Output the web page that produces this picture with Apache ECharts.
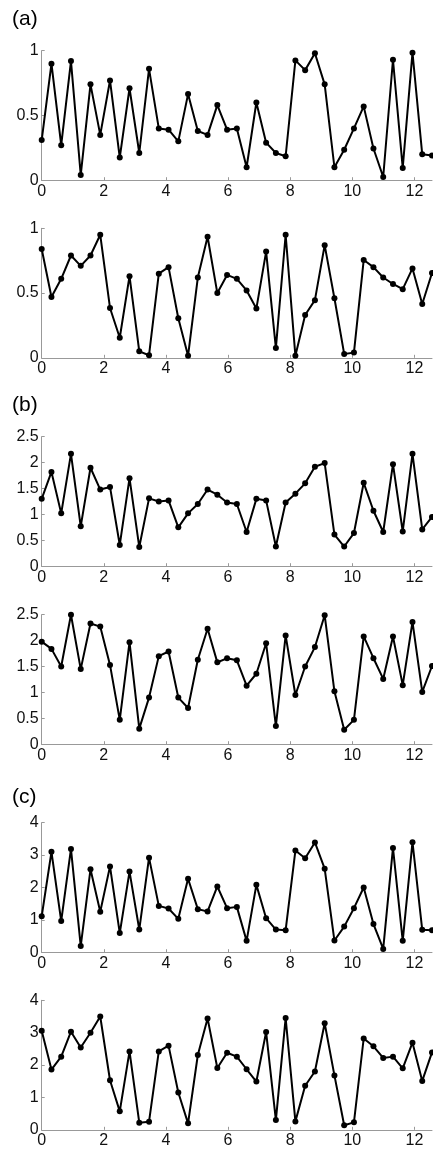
<!DOCTYPE html>
<html>
<head>
<meta charset="utf-8">
<script src="https://cdn.jsdelivr.net/npm/echarts@6/dist/echarts.min.js"></script>
<style>
  html, body { margin: 0; padding: 0; background: #fff; }
  #chart { width: 433px; height: 1151px; }
</style>
</head>
<body>
<div id="chart"></div>
<script>
// sample spacing along x (pi/10), 41 samples from 0 to 4pi
var step = Math.PI / 10;
var xMax = 4 * Math.PI;

var a1 = [0.31, 0.90, 0.27, 0.92, 0.04, 0.74, 0.35, 0.77, 0.175, 0.71, 0.21, 0.86, 0.40, 0.39, 0.30, 0.665, 0.38, 0.35, 0.58, 0.39, 0.40,
          0.10, 0.60, 0.29, 0.21, 0.185, 0.925, 0.85, 0.98, 0.74, 0.10, 0.235, 0.40, 0.57, 0.245, 0.025, 0.93, 0.095, 0.985, 0.20, 0.19];
var a2 = [0.84, 0.47, 0.61, 0.79, 0.71, 0.79, 0.95, 0.385, 0.155, 0.63, 0.05, 0.02, 0.65, 0.70, 0.305, 0.015, 0.62, 0.935, 0.50, 0.64, 0.61,
          0.52, 0.38, 0.82, 0.075, 0.95, 0.015, 0.33, 0.445, 0.87, 0.46, 0.03, 0.04, 0.755, 0.70, 0.62, 0.57, 0.53, 0.69, 0.415, 0.655];
var b1 = [1.30, 1.82, 1.02, 2.17, 0.77, 1.90, 1.48, 1.53, 0.41, 1.70, 0.37, 1.31, 1.25, 1.27, 0.75, 1.02, 1.20, 1.48, 1.38, 1.23, 1.20,
          0.66, 1.30, 1.27, 0.38, 1.23, 1.40, 1.60, 1.92, 1.99, 0.61, 0.38, 0.64, 1.61, 1.07, 0.66, 1.97, 0.67, 2.17, 0.71, 0.95];
var b2 = [1.98, 1.84, 1.50, 2.50, 1.45, 2.33, 2.27, 1.53, 0.47, 1.97, 0.30, 0.90, 1.70, 1.79, 0.90, 0.70, 1.63, 2.23, 1.58, 1.66, 1.62,
          1.13, 1.36, 1.95, 0.35, 2.10, 0.95, 1.50, 1.875, 2.49, 1.02, 0.28, 0.47, 2.08, 1.66, 1.26, 2.08, 1.14, 2.36, 1.01, 1.51];
var c1 = [1.11, 3.10, 0.96, 3.19, 0.19, 2.56, 1.25, 2.65, 0.59, 2.49, 0.70, 2.92, 1.43, 1.35, 1.03, 2.27, 1.33, 1.26, 2.03, 1.36, 1.40,
          0.35, 2.08, 1.05, 0.70, 0.68, 3.14, 2.90, 3.39, 2.58, 0.36, 0.79, 1.36, 2.00, 0.87, 0.10, 3.22, 0.35, 3.40, 0.69, 0.68];
var c2 = [3.06, 1.86, 2.26, 3.03, 2.54, 3.00, 3.50, 1.53, 0.57, 2.42, 0.22, 0.25, 2.42, 2.60, 1.15, 0.20, 2.31, 3.44, 1.91, 2.38, 2.26,
          1.87, 1.49, 3.02, 0.30, 3.45, 0.26, 1.36, 1.80, 3.29, 1.68, 0.14, 0.23, 2.82, 2.58, 2.22, 2.26, 1.90, 2.69, 1.51, 2.39];

var panels = [a1, a2, b1, b2, c1, c2];
var yMaxes = [1, 1, 2.5, 2.5, 4, 4];
var yIntervals = [0.5, 0.5, 0.5, 0.5, 1, 1];
var panelLetters = ['(a)', '(b)', '(c)'];

var tops = [50.7, 228.3, 436.7, 614.7, 822.7, 1000.3];
var gridH = 129.5;
var letterTops = [9, 395, 787];

var font = '"Liberation Sans", Arial, sans-serif';

var grids = [], xAxes = [], yAxes = [], series = [];
panels.forEach(function (vals, k) {
  grids.push({ left: 41.7, right: 1, top: tops[k], height: gridH });
  xAxes.push({
    type: 'value', gridIndex: k, min: 0, max: xMax, interval: 2,
    axisLine: { lineStyle: { color: '#999', width: 1 } },
    axisTick: { inside: true, length: 3, lineStyle: { color: '#999' } },
    axisLabel: { color: '#111', fontSize: 16, fontFamily: font, margin: 3, showMaxLabel: false,
      formatter: function (v) { return Math.round(v); } },
    splitLine: { show: false }
  });
  yAxes.push({
    type: 'value', gridIndex: k, min: 0, max: yMaxes[k], interval: yIntervals[k],
    axisLine: { show: true, lineStyle: { color: '#999', width: 1 } },
    axisTick: { show: true, inside: true, length: 3, lineStyle: { color: '#999' } },
    axisLabel: { color: '#111', fontSize: 16, fontFamily: font, margin: 3 },
    splitLine: { show: false }
  });
  series.push({
    type: 'line', xAxisIndex: k, yAxisIndex: k,
    data: vals.map(function (v, i) { return [i * step, v]; }),
    symbol: 'circle', symbolSize: 6, showSymbol: true,
    lineStyle: { color: '#000', width: 2 },
    itemStyle: { color: '#000' },
    clip: true
  });
});

var myChart = echarts.init(document.getElementById('chart'), null, { renderer: 'canvas' });
myChart.setOption({
  animation: false,
  backgroundColor: '#fff',
  grid: grids,
  xAxis: xAxes,
  yAxis: yAxes,
  series: series,
  graphic: panelLetters.map(function (t, k) {
    return { type: 'text', left: 12, top: letterTops[k],
      style: { text: t, fill: '#000', font: '21px ' + font } };
  })
});
</script>
</body>
</html>
